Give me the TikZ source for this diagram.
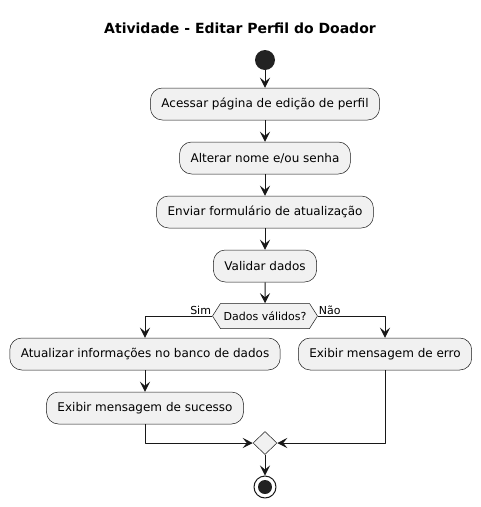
\documentclass[tikz,border=0pt]{standalone}
\usepackage{fontspec}
\setmainfont{DejaVu Sans}
\usetikzlibrary{arrows.meta,shapes.geometric,shapes.symbols}
\definecolor{efefef}{rgb}{0.945,0.945,0.945}
\definecolor{zzzzzz}{rgb}{0.094,0.094,0.094}
\definecolor{wwwwww}{rgb}{0.133,0.133,0.133}

\begin{document}
\begin{tikzpicture}[x=1pt,y=-1pt,line join=round,>={Stealth[length=10pt,width=10pt,inset=4pt]},
act/.style={rectangle,rounded corners=12pt,draw=zzzzzz,line width=0.5pt,fill=efefef,minimum height=32pt,inner xsep=11pt,font=\fontsize{12}{14}\selectfont},
flow/.style={->,line width=1pt,color=zzzzzz}]
\useasboundingbox (0,0) rectangle (481,507);

\node[font=\bfseries\fontsize{14}{16}\selectfont] (title) at (240,28) {Atividade - Editar Perfil do Doador};

\node[circle,fill=wwwwww,minimum size=20pt,inner sep=0pt] (start) at (265,60) {};
\node[act] (acessar) at (265,104) {Acessar página de edição de perfil};
\node[act] (alterar) at (265,158) {Alterar nome e/ou senha};
\node[act] (enviar) at (265,212) {Enviar formulário de atualização};
\node[act] (validar) at (265,266) {Validar dados};
\node[signal,signal to=west and east,signal pointer angle=115,draw=zzzzzz,fill=efefef,line width=0.5pt,minimum width=105pt,minimum height=25pt,inner sep=2pt,font=\fontsize{11}{13}\selectfont] (valido) at (265,316) {Dados válidos?};
\node[act] (atualizar) at (145,354) {Atualizar informações no banco de dados};
\node[act] (erro) at (385,354) {Exibir mensagem de erro};
\node[act] (sucesso) at (145,408) {Exibir mensagem de sucesso};
\node[diamond,draw=zzzzzz,fill=efefef,line width=0.5pt,minimum width=24pt,minimum height=23pt,inner sep=0pt] (merge) at (265,443) {};
\node[circle,draw=zzzzzz,line width=1pt,minimum size=22pt,inner sep=0pt] (stop) at (265,487) {};
\fill[wwwwww] (stop.center) circle (7);

\draw[flow] (start) -- (acessar);
\draw[flow] (acessar) -- (alterar);
\draw[flow] (alterar) -- (enviar);
\draw[flow] (enviar) -- (validar);
\draw[flow] (validar) -- (valido);
\draw[flow] (valido.west) -| (atualizar.north);
\draw[flow] (valido.east) -| (erro.north);
\draw[flow] (atualizar) -- (sucesso);
\draw[flow] (sucesso.south) |- (merge.west);
\draw[flow] (erro.south) |- (merge.east);
\draw[flow] (merge) -- (stop);

\begin{scriptsize}
\node[anchor=south east,inner sep=1pt,font=\fontsize{11}{13}\selectfont] (sim) at (valido.west) {Sim};
\node[anchor=south west,inner sep=1pt,font=\fontsize{11}{13}\selectfont] (nao) at (valido.east) {Não};
\end{scriptsize}
\end{tikzpicture}
\end{document}
